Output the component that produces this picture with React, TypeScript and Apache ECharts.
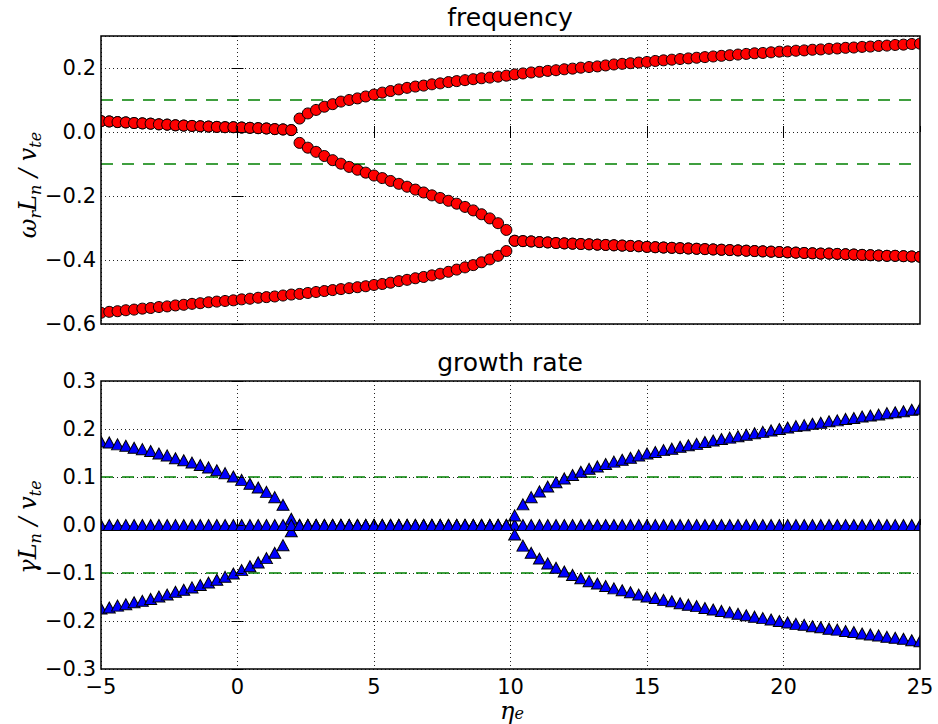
import React, { useEffect, useRef } from "react";
import * as echarts from "echarts";

// eta_e sample points (100 values from -5 to 25)
const eta = [
  -5.0, -4.697, -4.394, -4.091, -3.788, -3.485, -3.182, -2.879, -2.576, -2.273,
  -1.97, -1.667, -1.364, -1.061, -0.758, -0.455, -0.152, 0.152, 0.455, 0.758,
  1.061, 1.364, 1.667, 1.97, 2.273, 2.576, 2.879, 3.182, 3.485, 3.788,
  4.091, 4.394, 4.697, 5.0, 5.303, 5.606, 5.909, 6.212, 6.515, 6.818,
  7.121, 7.424, 7.727, 8.03, 8.333, 8.636, 8.939, 9.242, 9.545, 9.848,
  10.152, 10.455, 10.758, 11.061, 11.364, 11.667, 11.97, 12.273, 12.576, 12.879,
  13.182, 13.485, 13.788, 14.091, 14.394, 14.697, 15.0, 15.303, 15.606, 15.909,
  16.212, 16.515, 16.818, 17.121, 17.424, 17.727, 18.03, 18.333, 18.636, 18.939,
  19.242, 19.545, 19.848, 20.152, 20.455, 20.758, 21.061, 21.364, 21.667, 21.97,
  22.273, 22.576, 22.879, 23.182, 23.485, 23.788, 24.091, 24.394, 24.697, 25.0,
];

// frequency: complex pair for eta < 2 (indices 0..23)
const omegaPairLow = [
  0.034, 0.033, 0.031, 0.03, 0.028, 0.027, 0.026, 0.024, 0.023, 0.021,
  0.02, 0.019, 0.018, 0.017, 0.016, 0.015, 0.015, 0.014, 0.013, 0.012,
  0.011, 0.009, 0.008, 0.006,
];
// frequency: upper real branch for eta > 2 (indices 24..99)
const omegaUpper = [
  0.042, 0.058, 0.069, 0.079, 0.087, 0.095, 0.1, 0.105, 0.111,
  0.117, 0.123, 0.128, 0.133, 0.138, 0.142, 0.145, 0.149, 0.152, 0.156,
  0.159, 0.162, 0.165, 0.168, 0.17, 0.173, 0.176,
  0.18, 0.183, 0.186, 0.188, 0.191, 0.193, 0.196, 0.198, 0.201, 0.203,
  0.205, 0.208, 0.211, 0.213, 0.215, 0.217,
  0.219, 0.222, 0.224, 0.226, 0.228, 0.23, 0.232, 0.234, 0.236, 0.238,
  0.24, 0.242, 0.244, 0.246, 0.247, 0.249,
  0.251, 0.252, 0.254, 0.255, 0.257, 0.258, 0.26, 0.261, 0.263, 0.264,
  0.266, 0.267, 0.269, 0.27, 0.272, 0.273, 0.275, 0.276,
];
// frequency: middle real branch for 2 < eta < 10 (indices 24..49)
const omegaMiddle = [
  -0.034, -0.049, -0.062, -0.075, -0.088, -0.099, -0.109, -0.118, -0.127, -0.136,
  -0.144, -0.153, -0.162, -0.171, -0.18, -0.189, -0.198, -0.206, -0.215, -0.224,
  -0.234, -0.245, -0.257, -0.27, -0.285, -0.306,
];
// frequency: lower real branch for eta < 10 (indices 0..49)
const omegaLower = [
  -0.565, -0.562, -0.56, -0.557, -0.555, -0.552, -0.55, -0.547, -0.545, -0.542,
  -0.54, -0.537, -0.535, -0.532, -0.53, -0.528, -0.526, -0.523, -0.521, -0.518,
  -0.516, -0.514, -0.511, -0.508, -0.506, -0.503, -0.5, -0.497, -0.494, -0.491,
  -0.488, -0.485, -0.482, -0.478, -0.475, -0.471, -0.466, -0.462, -0.457, -0.453,
  -0.448, -0.443, -0.437, -0.43, -0.423, -0.416, -0.407, -0.398, -0.387, -0.372,
];
// frequency: complex pair for eta > 10 (indices 50..99)
const omegaPairHigh = [
  -0.34, -0.341, -0.342, -0.344, -0.345, -0.347, -0.348, -0.349, -0.35, -0.351,
  -0.352, -0.353, -0.354, -0.355, -0.356, -0.357, -0.359, -0.36, -0.361, -0.362,
  -0.363, -0.364, -0.365, -0.366, -0.367, -0.368, -0.369, -0.37, -0.371, -0.372,
  -0.373, -0.374, -0.375, -0.376, -0.377, -0.378, -0.379, -0.38, -0.38, -0.381,
  -0.382, -0.383, -0.384, -0.385, -0.386, -0.387, -0.387, -0.388, -0.389, -0.39,
];

// growth rate: pair for eta < 2 (indices 0..23)
const gammaPairLowPos = [
  0.174, 0.172, 0.168, 0.165, 0.161, 0.158, 0.154, 0.149, 0.145, 0.139,
  0.135, 0.13, 0.125, 0.12, 0.114, 0.108, 0.101, 0.094, 0.086, 0.078,
  0.069, 0.058, 0.042, 0.013,
];
const gammaPairLowNeg = [
  -0.174, -0.172, -0.168, -0.165, -0.161, -0.158, -0.154, -0.149, -0.145, -0.139,
  -0.135, -0.13, -0.125, -0.12, -0.114, -0.108, -0.101, -0.094, -0.086, -0.078,
  -0.069, -0.058, -0.042, -0.013,
];
// growth rate: pair for eta > 10 (indices 50..99)
const gammaPairHighPos = [
  0.02, 0.043, 0.058, 0.07, 0.08, 0.089, 0.097, 0.104, 0.111, 0.117,
  0.122, 0.127, 0.132, 0.136, 0.14, 0.145, 0.149, 0.152, 0.156, 0.159,
  0.163, 0.166, 0.169, 0.173, 0.176, 0.179, 0.182, 0.185, 0.188, 0.191,
  0.194, 0.197, 0.2, 0.203, 0.206, 0.208, 0.211, 0.213, 0.216, 0.218,
  0.221, 0.223, 0.226, 0.228, 0.23, 0.233, 0.235, 0.237, 0.24, 0.242,
];
const gammaPairHighNeg = [
  -0.02, -0.043, -0.058, -0.07, -0.08, -0.089, -0.097, -0.104, -0.111, -0.117,
  -0.122, -0.127, -0.132, -0.136, -0.14, -0.145, -0.149, -0.152, -0.156, -0.159,
  -0.163, -0.166, -0.169, -0.173, -0.176, -0.179, -0.182, -0.185, -0.188, -0.191,
  -0.194, -0.197, -0.2, -0.203, -0.206, -0.208, -0.211, -0.213, -0.216, -0.218,
  -0.221, -0.223, -0.226, -0.228, -0.23, -0.233, -0.235, -0.237, -0.24, -0.242,
];
// growth rate of the real roots (all indices)
const gammaReal = [
  0, 0, 0, 0, 0, 0, 0, 0, 0, 0, 0, 0, 0, 0, 0, 0, 0, 0, 0, 0,
  0, 0, 0, 0, 0, 0, 0, 0, 0, 0, 0, 0, 0, 0, 0, 0, 0, 0, 0, 0,
  0, 0, 0, 0, 0, 0, 0, 0, 0, 0, 0, 0, 0, 0, 0, 0, 0, 0, 0, 0,
  0, 0, 0, 0, 0, 0, 0, 0, 0, 0, 0, 0, 0, 0, 0, 0, 0, 0, 0, 0,
  0, 0, 0, 0, 0, 0, 0, 0, 0, 0, 0, 0, 0, 0, 0, 0, 0, 0, 0, 0,
];

const etaRange = [-5, 25];
const omegaThresholds = [0.1, -0.1];
const gammaThresholds = [0.1, -0.1];
const xTicks = { min: -5, max: 25, interval: 5 };
const omegaTicks = { min: -0.6, max: 0.3, interval: 0.2 };
const gammaTicks = { min: -0.3, max: 0.3, interval: 0.1 };

const pair = (xs: number[], ys: number[]) => xs.map((x, i) => [x, ys[i]]);

const etaLow = eta.slice(0, 24);
const etaFrom2 = eta.slice(24);
const etaMid = eta.slice(24, 50);
const etaTo10 = eta.slice(0, 50);
const etaHigh = eta.slice(50);

const freqRootA = [...pair(etaLow, omegaPairLow), ...pair(etaFrom2, omegaUpper)];
const freqRootB = [...pair(etaLow, omegaPairLow), ...pair(etaMid, omegaMiddle), ...pair(etaHigh, omegaPairHigh)];
const freqRootC = [...pair(etaTo10, omegaLower), ...pair(etaHigh, omegaPairHigh)];

const growRootA = [...pair(etaLow, gammaPairLowPos), ...pair(etaFrom2, gammaReal.slice(24))];
const growRootB = [...pair(etaLow, gammaPairLowNeg), ...pair(etaMid, gammaReal.slice(24, 50)), ...pair(etaHigh, gammaPairHighPos)];
const growRootC = [...pair(etaTo10, gammaReal.slice(0, 50)), ...pair(etaHigh, gammaPairHighNeg)];

const MINUS = "\u2212";
const fmt = (d: number) => (v: number) => {
  if (Math.abs(v) < 1e-9) return (0).toFixed(d);
  return (v < 0 ? MINUS : "") + Math.abs(v).toFixed(d);
};

const tickFont = { fontFamily: "DejaVu Sans", fontSize: 21, color: "#000" };
const gridLine = { show: true, lineStyle: { color: "#222", width: 1, type: [1, 3] as any } };
const tick = { show: true, inside: true, length: 6, lineStyle: { color: "#000", width: 1 } };

const G = [
  { left: 101, top: 36, width: 819, height: 288 },
  { left: 101, top: 381, width: 819, height: 288 },
];

function xAxes(gi: number, labels: boolean) {
  return [
    {
      gridIndex: gi, type: "value", position: "bottom", ...xTicks, z: 10,
      axisLine: { show: false }, axisTick: tick,
      axisLabel: { show: labels, ...tickFont, lineHeight: 20, margin: 8, formatter: fmt(0) },
      splitLine: { show: false },
    },
    {
      gridIndex: gi, type: "value", position: "top", ...xTicks, z: 0,
      axisLine: { show: false }, axisTick: tick, axisLabel: { show: false }, splitLine: gridLine,
    },
  ];
}
function yAxes(gi: number, t: any, showMax: boolean) {
  return [
    {
      gridIndex: gi, type: "value", position: "left", ...t, z: 10,
      axisLine: { show: false }, axisTick: tick,
      axisLabel: { ...tickFont, margin: 5, formatter: fmt(1), showMaxLabel: showMax },
      splitLine: { show: false },
    },
    {
      gridIndex: gi, type: "value", position: "right", ...t, z: 0,
      axisLine: { show: false }, axisTick: tick, axisLabel: { show: false }, splitLine: gridLine,
    },
  ];
}

const thresholdSeries = (levels: number[], xi: number, yi: number) =>
  levels.map((lv) => ({
    type: "line", xAxisIndex: xi, yAxisIndex: yi, symbol: "none", silent: true, z: 1,
    data: etaRange.map((x) => [x, lv]),
    lineStyle: { color: "#008000", width: 1.5, type: [12, 9] as any },
  }));

const circleSeries = (data: number[][]) => ({
  type: "scatter", xAxisIndex: 0, yAxisIndex: 0, data, symbol: "circle", symbolSize: 11, z: 3,
  itemStyle: { color: "#ff0000", borderColor: "#000", borderWidth: 1, opacity: 1 },
});
const triSeries = (data: number[][]) => ({
  type: "scatter", xAxisIndex: 2, yAxisIndex: 2, data, symbol: "triangle", symbolSize: [12, 11], z: 3,
  itemStyle: { color: "#0000ff", borderColor: "#000", borderWidth: 1, opacity: 1 },
});

const serif = "DejaVu Serif";
const rich = {
  m: { fontFamily: serif, fontStyle: "italic", fontSize: 24, lineHeight: 30, verticalAlign: "middle", color: "#000" },
  s: { fontFamily: serif, fontStyle: "italic", fontSize: 16, lineHeight: 14, verticalAlign: "bottom", color: "#000" },
};
const richX = {
  m: { fontFamily: serif, fontStyle: "italic", fontSize: 24, lineHeight: 20, verticalAlign: "middle", color: "#000" },
  s: { fontFamily: serif, fontStyle: "italic", fontSize: 16, lineHeight: 8, verticalAlign: "bottom", color: "#000" },
};

const frame = (g: any) => ({
  type: "rect", z: 100, silent: true,
  shape: { x: g.left, y: g.top, width: g.width, height: g.height },
  style: { fill: "none", stroke: "#000", lineWidth: 1.5 },
});
const strips = (g: any) => [
  { type: "rect", z: 5, silent: true, shape: { x: g.left - 7, y: g.top - 2, width: 7, height: g.height + 4 }, style: { fill: "#fff" } },
  { type: "rect", z: 5, silent: true, shape: { x: g.left + g.width, y: g.top - 2, width: 10, height: g.height + 4 }, style: { fill: "#fff" } },
];

const option: any = {
  animation: false,
  backgroundColor: "#fff",
  grid: G.map((g) => ({ ...g, show: false, containLabel: false })),
  xAxis: [...xAxes(0, false), ...xAxes(1, true)],
  yAxis: [...yAxes(0, omegaTicks, false), ...yAxes(1, gammaTicks, true)],
  series: [
    ...thresholdSeries(omegaThresholds, 0, 0),
    ...thresholdSeries(gammaThresholds, 2, 2),
    circleSeries(freqRootA),
    circleSeries(freqRootB),
    circleSeries(freqRootC),
    triSeries(growRootA),
    triSeries(growRootB),
    triSeries(growRootC),
  ],
  graphic: [
    ...strips(G[0]),
    ...strips(G[1]),
    frame(G[0]),
    frame(G[1]),
    {
      type: "text", x: 510, y: 17, z: 100,
      style: { text: "frequency", fontFamily: "DejaVu Sans", fontSize: 25, fill: "#000", align: "center", verticalAlign: "middle" },
    },
    {
      type: "text", x: 510, y: 362, z: 100,
      style: { text: "growth rate", fontFamily: "DejaVu Sans", fontSize: 25, fill: "#000", align: "center", verticalAlign: "middle" },
    },
    {
      type: "text", x: 28, y: 185, rotation: Math.PI / 2, z: 100,
      style: { text: "{m|ω}{s|r}{m|L}{s|n}{m| / v}{s|te}", rich, align: "center", verticalAlign: "middle" },
    },
    {
      type: "text", x: 28, y: 527, rotation: Math.PI / 2, z: 100,
      style: { text: "{m|γL}{s|n}{m| / v}{s|te}", rich, align: "center", verticalAlign: "middle" },
    },
    {
      type: "text", x: 512, y: 711, z: 100,
      style: { text: "{m|η}{s|e}", rich: richX, align: "center", verticalAlign: "middle" },
    },
  ],
};

export default function App() {
  const ref = useRef<HTMLDivElement>(null);
  useEffect(() => {
    const chart = echarts.init(ref.current!, null, { renderer: "svg" });
    chart.setOption(option);
    return () => chart.dispose();
  }, []);
  return (
    <div
      ref={ref}
      style={{ position: "fixed", left: 0, top: 0, width: 938, height: 724, background: "#fff" }}
    />
  );
}
